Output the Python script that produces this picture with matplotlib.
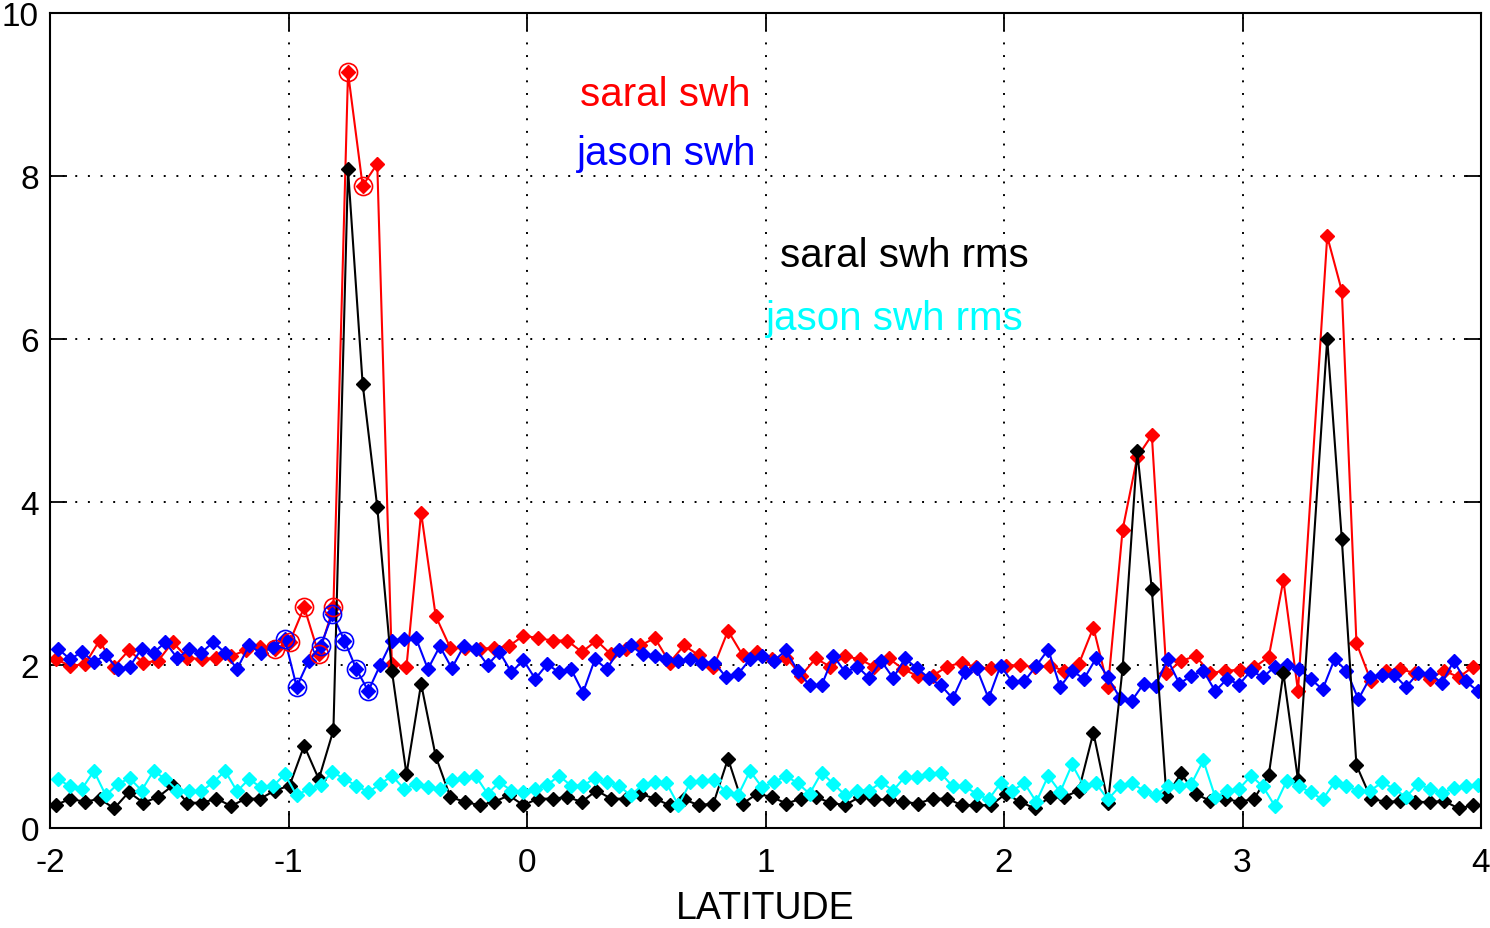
import numpy as np
import matplotlib
matplotlib.use("Agg")
import matplotlib.pyplot as plt

plt.rcParams.update(
    {
        "font.family": ["Liberation Sans", "DejaVu Sans"],
        "axes.unicode_minus": False,
    }
)

# along-track latitude of each 1 Hz record (saral misses one record near 3.3)
saral_lat = np.delete(np.linspace(-1.976, 3.968, 98), 86)
jason_lat = np.linspace(-1.966, 3.986, 120)

saral_swh = [
    2.07, 1.99, 2.01, 2.30, 1.98, 2.18, 2.03, 2.05, 2.28, 2.09,
    2.07, 2.09, 2.11, 2.18, 2.22, 2.20, 2.28, 2.71, 2.13, 2.71,
    9.27, 7.88, 8.15, 2.01, 1.98, 3.87, 2.60, 2.21, 2.21, 2.20,
    2.21, 2.23, 2.36, 2.33, 2.30, 2.30, 2.16, 2.30, 2.13, 2.20,
    2.24, 2.33, 2.03, 2.24, 2.12, 1.97, 2.42, 2.12, 2.16, 2.07,
    2.09, 1.87, 2.08, 1.98, 2.11, 2.07, 1.98, 2.08, 1.95, 1.86,
    1.87, 1.98, 2.03, 1.97, 1.96, 1.99, 2.00, 1.97, 1.99, 1.93,
    2.01, 2.46, 1.73, 3.66, 4.55, 4.82, 1.90, 2.05, 2.11, 1.90,
    1.93, 1.94, 1.97, 2.10, 3.04, 1.68,
    7.26, 6.59, 2.27, 1.80, 1.93, 1.95, 1.90, 1.83, 1.93, 1.85, 1.98,
]
saral_rms = [
    0.28, 0.36, 0.32, 0.36, 0.24, 0.44, 0.31, 0.38, 0.52, 0.31,
    0.31, 0.36, 0.27, 0.36, 0.36, 0.46, 0.52, 1.01, 0.60, 1.20,
    8.08, 5.45, 3.94, 1.93, 0.66, 1.77, 0.88, 0.38, 0.32, 0.28,
    0.32, 0.40, 0.28, 0.36, 0.36, 0.38, 0.32, 0.46, 0.36, 0.36,
    0.42, 0.36, 0.28, 0.35, 0.28, 0.30, 0.85, 0.30, 0.42, 0.38,
    0.30, 0.36, 0.38, 0.31, 0.28, 0.38, 0.35, 0.35, 0.32, 0.30,
    0.36, 0.36, 0.28, 0.28, 0.28, 0.42, 0.32, 0.24, 0.38, 0.38,
    0.46, 1.17, 0.31, 1.96, 4.62, 2.93, 0.39, 0.67, 0.42, 0.33,
    0.36, 0.32, 0.36, 0.65, 1.90, 0.59,
    6.00, 3.54, 0.77, 0.36, 0.32, 0.33, 0.32, 0.32, 0.33, 0.24, 0.28,
]
jason_swh = [
    2.20, 2.07, 2.16, 2.04, 2.12, 1.95, 1.98, 2.20, 2.15, 2.28,
    2.08, 2.20, 2.15, 2.28, 2.15, 1.95, 2.24, 2.15, 2.22, 2.32,
    1.73, 2.05, 2.23, 2.62, 2.30, 1.95, 1.68, 2.00, 2.30, 2.32,
    2.33, 1.95, 2.23, 1.96, 2.23, 2.20, 2.00, 2.16, 1.91, 2.06,
    1.83, 2.01, 1.91, 1.95, 1.66, 2.07, 1.95, 2.18, 2.24, 2.13,
    2.11, 2.07, 2.05, 2.07, 2.03, 2.03, 1.85, 1.89, 2.07, 2.11,
    2.05, 2.18, 1.93, 1.75, 1.75, 2.11, 1.91, 1.98, 1.84, 2.05,
    1.84, 2.08, 1.96, 1.84, 1.75, 1.59, 1.91, 1.96, 1.59, 1.99,
    1.79, 1.80, 1.99, 2.19, 1.73, 1.93, 1.83, 2.08, 1.85, 1.60,
    1.56, 1.77, 1.74, 2.07, 1.77, 1.87, 1.93, 1.68, 1.83, 1.76,
    1.93, 1.85, 1.98, 2.00, 1.95, 1.83, 1.70, 2.07, 1.93, 1.58,
    1.85, 1.88, 1.88, 1.73, 1.90, 1.89, 1.78, 2.05, 1.80, 1.68,
]
jason_rms = [
    0.60, 0.51, 0.48, 0.70, 0.40, 0.54, 0.61, 0.46, 0.70, 0.60,
    0.46, 0.45, 0.45, 0.56, 0.70, 0.45, 0.60, 0.50, 0.51, 0.66,
    0.40, 0.48, 0.53, 0.69, 0.60, 0.52, 0.44, 0.54, 0.64, 0.48,
    0.54, 0.50, 0.48, 0.59, 0.61, 0.64, 0.42, 0.56, 0.46, 0.44,
    0.48, 0.53, 0.64, 0.52, 0.52, 0.61, 0.56, 0.52, 0.40, 0.53,
    0.56, 0.55, 0.28, 0.56, 0.58, 0.59, 0.44, 0.40, 0.70, 0.50,
    0.56, 0.64, 0.55, 0.42, 0.68, 0.54, 0.40, 0.46, 0.46, 0.56,
    0.46, 0.63, 0.62, 0.66, 0.67, 0.51, 0.51, 0.42, 0.35, 0.55,
    0.46, 0.55, 0.32, 0.64, 0.44, 0.78, 0.51, 0.55, 0.35, 0.51,
    0.55, 0.46, 0.40, 0.51, 0.51, 0.54, 0.83, 0.38, 0.45, 0.48,
    0.64, 0.51, 0.27, 0.58, 0.51, 0.44, 0.35, 0.56, 0.52, 0.45,
    0.46, 0.56, 0.48, 0.38, 0.54, 0.48, 0.43, 0.49, 0.51, 0.53,
]

# records flagged as land-contaminated (circled)
saral_flag = [15, 16, 17, 18, 19, 20, 21]
jason_flag = [19, 20, 22, 23, 24, 25, 26]

saral_swh = np.asarray(saral_swh)
jason_swh = np.asarray(jason_swh)

fig = plt.figure(figsize=(14.9, 9.29), dpi=100)
ax = fig.add_axes([50 / 1490, 100 / 929, 1431 / 1490, 815 / 929])

mk = dict(marker="D", markersize=7, linewidth=1.5)
ax.plot(saral_lat, saral_swh, color="red", **mk)
ax.plot(jason_lat, jason_swh, color="blue", **mk)
ax.plot(saral_lat, saral_rms, color="black", **mk)
ax.plot(jason_lat, jason_rms, color="cyan", **mk)

ax.plot(saral_lat[saral_flag], saral_swh[saral_flag], "o", mfc="none",
        mec="red", markersize=13, mew=1.2)
ax.plot(jason_lat[jason_flag], jason_swh[jason_flag], "o", mfc="none",
        mec="blue", markersize=13, mew=1.2)

txt = dict(fontsize=29, va="baseline")
ax.text(0.222, 8.87, "saral swh", color="red", **txt)
ax.text(0.210, 8.15, "jason swh", color="blue", **txt)
ax.text(1.061, 6.90, "saral swh rms", color="black", **txt)
ax.text(1.002, 6.12, "jason swh rms", color="cyan", **txt)

ax.set_xlim(-2, 4)
ax.set_ylim(0, 10)
ax.set_xticks(np.arange(-2, 5, 1))
ax.set_yticks(np.arange(0, 11, 2))
ax.grid(True, color="black", linestyle=(0, (1, 5.5)), linewidth=1.4)
ax.tick_params(direction="in", length=12, width=1.3, top=True, right=True,
               labelsize=24)
ax.tick_params(axis="x", pad=14)
ax.tick_params(axis="y", pad=8)
for s in ax.spines.values():
    s.set_linewidth(1.5)
ax.set_xlabel("LATITUDE", fontsize=27, labelpad=8)

fig.savefig("out.png", dpi=100)
